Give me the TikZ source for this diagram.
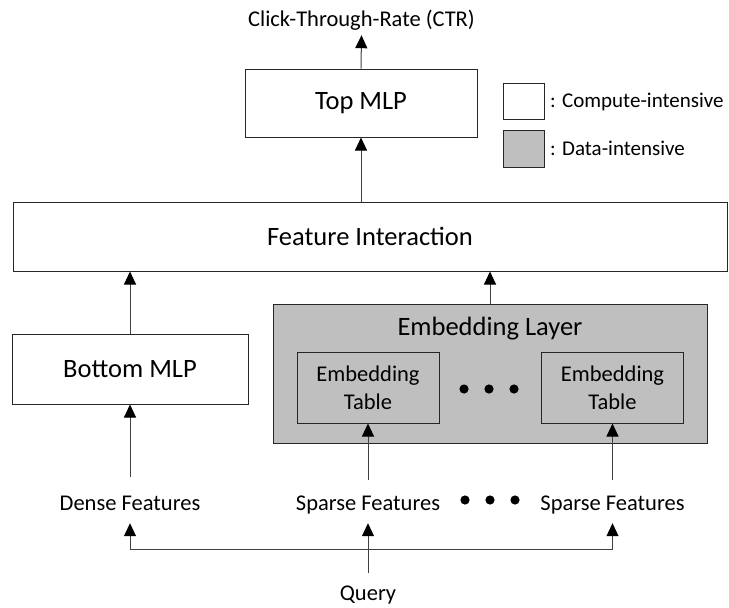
\documentclass[tikz,border=0pt]{standalone}
\usepackage{fontspec}
\setmainfont{Carlito}
\usetikzlibrary{arrows.meta}
\definecolor{datagray}{HTML}{BFBFBF}
\begin{document}
\begin{tikzpicture}[x=1pt,y=-1pt,
  box/.style={draw=black!85, line width=1pt, fill=white, inner sep=0pt},
  gbox/.style={box, fill=datagray},
  lbl/.style={font=\fontsize{26.5}{30}\selectfont},
  txt/.style={font=\fontsize{22.5}{28}\selectfont, inner sep=0pt},
  legtxt/.style={font=\fontsize{21}{25}\selectfont, inner sep=0pt, anchor=base west},
  arr/.style={draw=black!75, line width=1pt, -{Triangle[length=13pt,width=12pt,color=black]}},
  dot/.style={fill=black}]
\useasboundingbox (0,0) rectangle (729,608);

% main boxes
\node[box, lbl, minimum width=232pt, minimum height=68pt] (top) at (361,103) {Top MLP};
\node[box, lbl, minimum width=714pt, minimum height=69pt] (fi) at (370,236.5) {Feature Interaction};
\node[box, lbl, minimum width=236pt, minimum height=70pt] (bot) at (130,369) {Bottom MLP};
\node[gbox, minimum width=434pt, minimum height=139pt] (el) at (490,373.5) {};
\node[lbl, anchor=base, inner sep=0pt] (ellbl) at (490,335) {Embedding Layer};
\node[gbox, txt, align=center, minimum width=142pt, minimum height=71pt] (et1) at (368,387.5) {Embedding\\Table};
\node[gbox, txt, align=center, minimum width=142pt, minimum height=71pt] (et2) at (612.5,387.5) {Embedding\\Table};
\fill[dot] (464,389) circle (4.6pt) (489,389) circle (4.6pt) (514,389) circle (4.6pt);

% legend
\node[box, minimum width=41pt, minimum height=36pt] (lw) at (523.5,101) {};
\node[gbox, minimum width=41pt, minimum height=37pt] (lg) at (523.5,148.5) {};
\node[legtxt] (lt1) at (550,107) {: Compute-intensive};
\node[legtxt] (lt2) at (550,155) {: Data-intensive};

% texts
\node[txt, text depth=9pt, anchor=base] (ctr) at (361.5,26) {Click-Through-Rate (CTR)};
\node[txt, text height=33pt, text depth=13pt, anchor=base] (dense) at (130,510) {Dense Features};
\node[txt, text height=30pt, text depth=13pt, anchor=base] (sp1) at (368,510) {Sparse Features};
\node[txt, text height=30pt, text depth=13pt, anchor=base] (sp2) at (612.5,510) {Sparse Features};
\fill[dot] (465,500) circle (4.6pt) (490,500) circle (4.6pt) (515,500) circle (4.6pt);
\node[txt, text height=27pt, anchor=base] (query) at (368,600) {Query};
\coordinate (hl) at (368,549);

% connectors
\draw[arr] (top.north) -- (ctr.south);
\draw[arr] (top.south |- fi.north) -- (top.south);
\draw[arr] (bot.north) -- (bot.north |- fi.south);
\draw[arr] (el.north) -- (el.north |- fi.south);
\draw[arr] (dense.north) -- (bot.south);
\draw[arr] (sp1.north) -- (et1.south);
\draw[arr] (sp2.north) -- (et2.south);
\draw[arr] (query.north) -- (sp1.south);
\draw[arr] (hl) -| (dense.south);
\draw[arr] (hl) -| (sp2.south);
\end{tikzpicture}
\end{document}
